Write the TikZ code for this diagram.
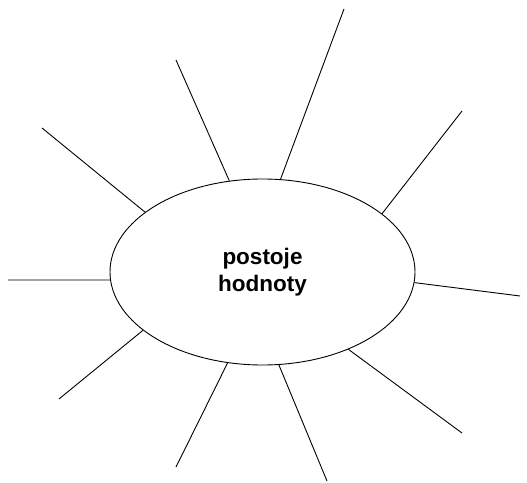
\documentclass[tikz,border=0pt]{standalone}
\usepackage{fontspec}
\setmainfont{Liberation Sans}
\usepackage{xcolor}
\usepackage{tikz}
\usetikzlibrary{shapes.geometric}

\begin{document}
\begin{tikzpicture}[
  x=1pt, y=1pt,
  centerbox/.style={
    ellipse, draw=black, line width=0.9pt,
    minimum width=305pt, minimum height=186pt,
    inner sep=0pt, align=center,
    font=\fontsize{22.5}{27}\selectfont\bfseries,
  },
  ray/.style={draw=black, line width=0.9pt},
]
\useasboundingbox (0,0) rectangle (527,482);

% Center
\node[centerbox] (hodnoty) at (262.5, 210) {postoje\\hodnoty};

% Free ends
\coordinate (r1) at (344, 473);
\coordinate (r2) at (176, 422);
\coordinate (r3) at (42, 354);
\coordinate (r4) at (8, 202);
\coordinate (r5) at (59, 83);
\coordinate (r6) at (176, 15);
\coordinate (r7) at (327, 1);
\coordinate (r8) at (462, 49);
\coordinate (r9) at (520, 186);
\coordinate (r10) at (462, 371);

% Rays
\draw[ray] (hodnoty.79.5) -- (r1);
\draw[ray] (hodnoty.110.2) -- (r2);
\draw[ray] (hodnoty.153.7) -- (r3);
\draw[ray] (hodnoty.183) -- (r4);
\draw[ray] (hodnoty.206.7) -- (r5);
\draw[ray] (hodnoty.249.6) -- (r6);
\draw[ray] (hodnoty.280.7) -- (r7);
\draw[ray] (hodnoty.318) -- (r8);
\draw[ray] (hodnoty.356.6) -- (r9);
\draw[ray] (hodnoty.26.5) -- (r10);

\end{tikzpicture}
\end{document}
